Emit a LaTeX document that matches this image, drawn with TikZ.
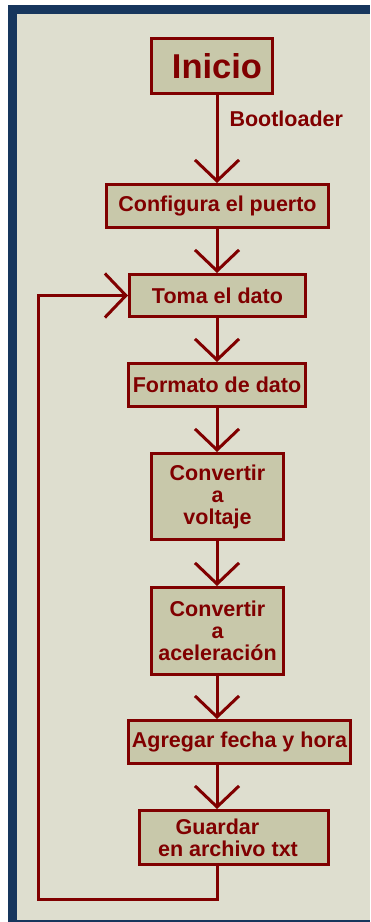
\documentclass[tikz,border=0pt]{standalone}
\usepackage{fontspec}
\setmainfont{Liberation Sans}
\usetikzlibrary{arrows.meta}

\definecolor{granate}{RGB}{128,0,0}
\definecolor{crema}{RGB}{200,200,170}
\definecolor{fondo}{RGB}{222,222,207}
\definecolor{marco}{RGB}{23,54,93}

\tikzset{
  caja/.style={draw=granate, fill=crema, line width=3pt, inner sep=0pt,
    text=granate, font=\fontsize{21.5}{22}\selectfont\bfseries, align=center},
  flecha/.style={draw=granate, line width=3pt,
    -{Straight Barb[length=21pt,width=44pt]}},
}

\begin{document}
\begin{tikzpicture}[x=1pt,y=-1pt]

\useasboundingbox (0,0) rectangle (370,922);
\fill[white] (0,0) rectangle (370,922);
\fill[marco] (8,5) rectangle (370,922);
\fill[fondo] (17,14) rectangle (370,920);

\coordinate (eje) at (217,0);
\coordinate (retorno) at (38,899);

\node[caja, minimum width=121pt, minimum height=55pt,
  font=\fontsize{34.5}{36}\selectfont\bfseries] (inicio) at (212,66) {\hspace*{10pt}Inicio};
\node[caja, minimum width=222pt, minimum height=43pt] (configura) at (217.5,206) {Configura el puerto};
\node[caja, minimum width=176pt, minimum height=42pt] (toma) at (217.5,295.5) {Toma el dato};
\node[caja, minimum width=177pt, minimum height=43pt] (formato) at (217,385) {Formato de dato};
\node[caja, minimum width=132pt, minimum height=86pt] (voltaje) at (217.5,496.5) {Convertir\\a\\voltaje};
\node[caja, minimum width=132pt, minimum height=87pt] (aceleracion) at (217.5,631) {Convertir\\a\\aceleración};
\node[caja, minimum width=222pt, minimum height=43pt] (agregar) at (239.5,742) {Agregar fecha y hora};
\node[caja, minimum width=189pt, minimum height=54pt] (guardar) at (234,837.5) {Guardar\hspace*{33pt}\\en archivo txt\hspace*{12pt}};

\draw[flecha] (inicio.south -| eje) -- node[pos=.27, anchor=west, xshift=11pt, inner sep=0pt,
  text=granate, font=\fontsize{21.5}{22}\selectfont\bfseries] (boot) {Bootloader} (configura.north -| eje);
\draw[flecha] (configura.south -| eje) -- (toma.north -| eje);
\draw[flecha] (toma.south -| eje) -- (formato.north -| eje);
\draw[flecha] (formato.south -| eje) -- (voltaje.north -| eje);
\draw[flecha] (voltaje.south -| eje) -- (aceleracion.north -| eje);
\draw[flecha] (aceleracion.south -| eje) -- (agregar.north -| eje);
\draw[flecha] (agregar.south -| eje) -- (guardar.north -| eje);
\draw[flecha] (guardar.south -| eje) |- (retorno) |- (toma.west);

\end{tikzpicture}
\end{document}
